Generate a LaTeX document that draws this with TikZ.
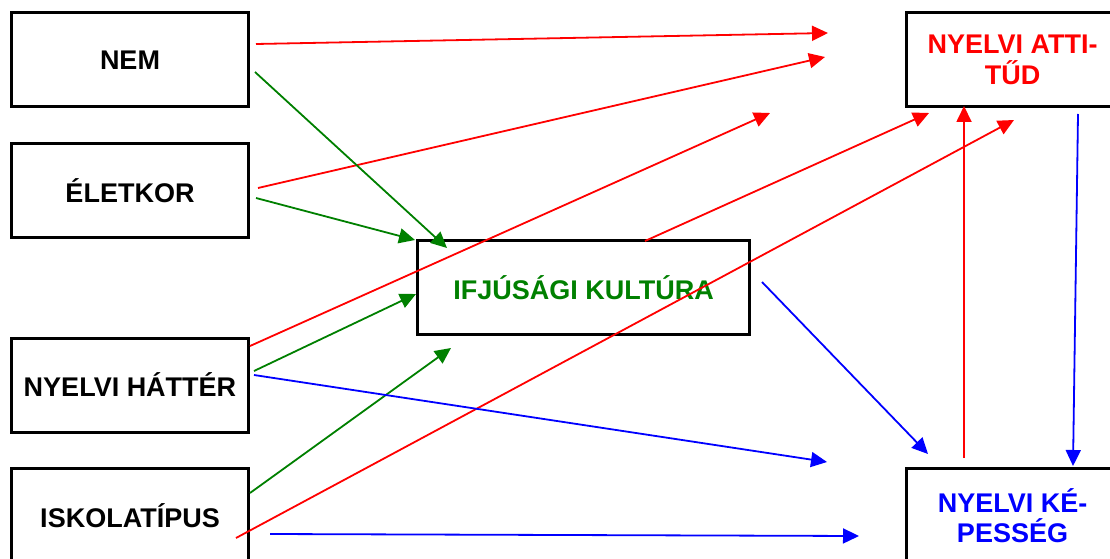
\documentclass[tikz,border=0pt]{standalone}
\usepackage{fontspec}
\setmainfont{Liberation Sans}
\usetikzlibrary{arrows.meta}
\definecolor{dgreen}{HTML}{008000}
\tikzset{
  box/.style={draw=black, line width=3pt, rectangle, inner sep=0pt,
    minimum width=237pt, minimum height=94pt, align=center,
    font=\fontsize{27}{30.5}\selectfont\bfseries},
  conn/.style={line width=1.8pt, -{Triangle[length=16pt,width=15pt]}},
  rconn/.style={conn, draw=red, fill=red},
  gconn/.style={conn, draw=dgreen, fill=dgreen},
  bconn/.style={conn, draw=blue, fill=blue}
}
\begin{document}
\begin{tikzpicture}[x=1pt,y=-1pt]
\useasboundingbox (0,0) rectangle (1110,559);
\clip (0,0) rectangle (1110,559);
\fill[white] (0,0) rectangle (1110,559);
% boxes
\node[box] (nem) at (130,60) {NEM};
\node[box] (elet) at (130,190.5) {ÉLETKOR};
\node[box] (hatter) at (130,385) {NYELVI HÁTTÉR};
\node[box] (iskola) at (130,515.5) {ISKOLATÍPUS};
\node[box, minimum width=332pt, text=dgreen] (ifj) at (583.5,287.5) {IFJÚSÁGI KULTÚRA};
\node[box, minimum width=212pt, text=red] (att) at (1012.5,60) {NYELVI ATTI-\\TŰD};
\node[box, minimum width=212pt, text=blue] (kep) at (1012.5,515.5) {NYELVI KÉ-\\PESSÉG};
% connector end points
\coordinate (nem-a) at (256,44);   \coordinate (att-a) at (828,33);
\coordinate (elet-a) at (258,188); \coordinate (att-b) at (825,57);
\coordinate (hatter-a) at (250,346); \coordinate (att-c) at (770,113);
\coordinate (ifj-a) at (645,241);  \coordinate (att-d) at (929,113);
\coordinate (iskola-a) at (236,538); \coordinate (att-e) at (1014,120);
\coordinate (kep-a) at (964,458);  \coordinate (att-f) at (964,106);
\coordinate (nem-g) at (255,72);   \coordinate (ifj-g1) at (447,248);
\coordinate (elet-g) at (256,198); \coordinate (ifj-g2) at (415,240);
\coordinate (hatter-g) at (254,371); \coordinate (ifj-g3) at (416,294);
\coordinate (iskola-g) at (250,493); \coordinate (ifj-g4) at (451,348);
\coordinate (ifj-b) at (762,282);  \coordinate (kep-b1) at (928,454);
\coordinate (hatter-b) at (254,375); \coordinate (kep-b2) at (827,462);
\coordinate (iskola-b) at (270,534); \coordinate (kep-b3) at (859,536);
\coordinate (att-g) at (1078,114); \coordinate (kep-b4) at (1073,466);
% red
\draw[rconn] (nem-a) -- (att-a);
\draw[rconn] (elet-a) -- (att-b);
\draw[rconn] (hatter-a) -- (att-c);
\draw[rconn] (ifj-a) -- (att-d);
\draw[rconn] (iskola-a) -- (att-e);
\draw[rconn] (kep-a) -- (att-f);
% green
\draw[gconn] (nem-g) -- (ifj-g1);
\draw[gconn] (elet-g) -- (ifj-g2);
\draw[gconn] (hatter-g) -- (ifj-g3);
\draw[gconn] (iskola-g) -- (ifj-g4);
% blue
\draw[bconn] (ifj-b) -- (kep-b1);
\draw[bconn] (hatter-b) -- (kep-b2);
\draw[bconn] (iskola-b) -- (kep-b3);
\draw[bconn] (att-g) -- (kep-b4);
\end{tikzpicture}
\end{document}
